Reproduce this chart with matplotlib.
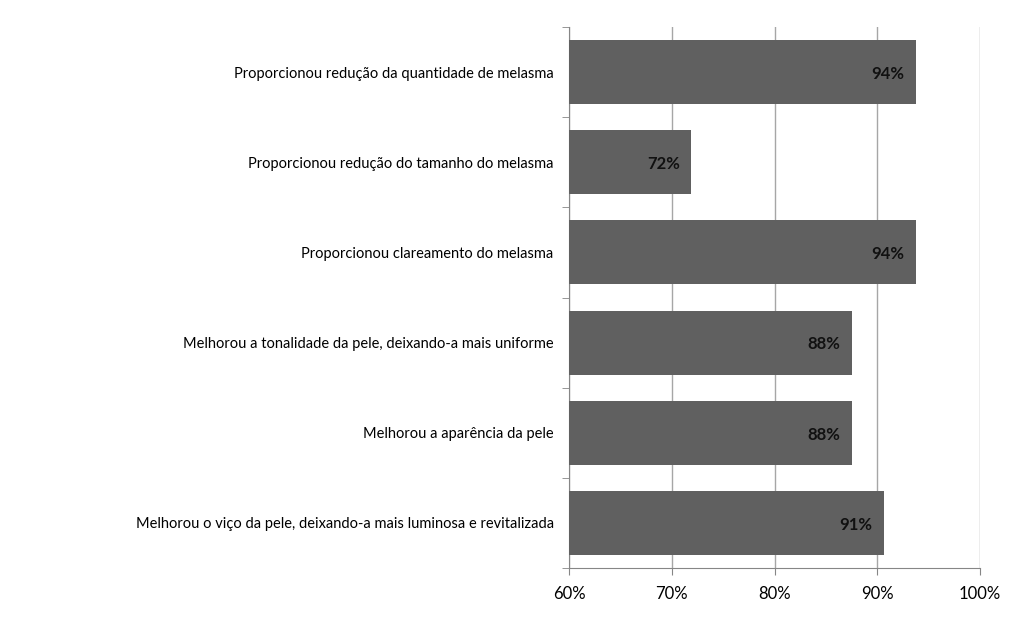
import matplotlib
matplotlib.use('Agg')
import matplotlib.pyplot as plt
from matplotlib.ticker import FixedLocator

# categories top to bottom
labels = [
    "Proporcionou redução da quantidade de melasma",
    "Proporcionou redução do tamanho do melasma",
    "Proporcionou clareamento do melasma",
    "Melhorou a tonalidade da pele, deixando-a mais uniforme",
    "Melhorou a aparência da pele",
    "Melhorou o viço da pele, deixando-a mais luminosa e revitalizada",
]
values = [93.75, 71.875, 93.75, 87.5, 87.5, 90.625]
value_text = ["94%", "72%", "94%", "88%", "88%", "91%"]
xticks = [60, 70, 80, 90, 100]

plt.rcParams['font.family'] = ['Lato', 'DejaVu Sans']

fig = plt.figure(figsize=(10.24, 6.33), dpi=100)
ax = fig.add_axes([569/1024, 1-568/633, 411/1024, 541/633])

pos = list(range(len(labels)))
ax.barh(pos, [v - 60 for v in values], left=60, height=0.71, color='#606060', zorder=3)

for p, v, t in zip(pos, values, value_text):
    ax.text(v - 1.1, p + 0.02, t, ha='right', va='center', fontsize=12, fontweight='bold',
            color='#111111', zorder=4)

ax.set_xlim(60, 100)
ax.set_ylim(len(labels) - 0.5, -0.5)
ax.set_xticks(xticks)
ax.set_xticklabels([f"{x}%" for x in xticks], fontsize=12)
ax.set_yticks(pos)
ax.set_yticklabels(labels, fontsize=10.5)
ax.tick_params(axis='y', length=0, pad=11)
ax.yaxis.set_minor_locator(FixedLocator([i - 0.5 for i in range(len(labels) + 1)]))
ax.tick_params(axis='y', which='minor', length=5, color='#868686', direction='out')
ax.tick_params(axis='x', length=5, color='#868686', pad=8)
ax.xaxis.grid(True, color='#a6a6a6', linewidth=1, zorder=0)

for s in ['top', 'right']:
    ax.spines[s].set_visible(False)
for s in ['left', 'bottom']:
    ax.spines[s].set_color('#868686')

fig.savefig('out.png', dpi=100)
